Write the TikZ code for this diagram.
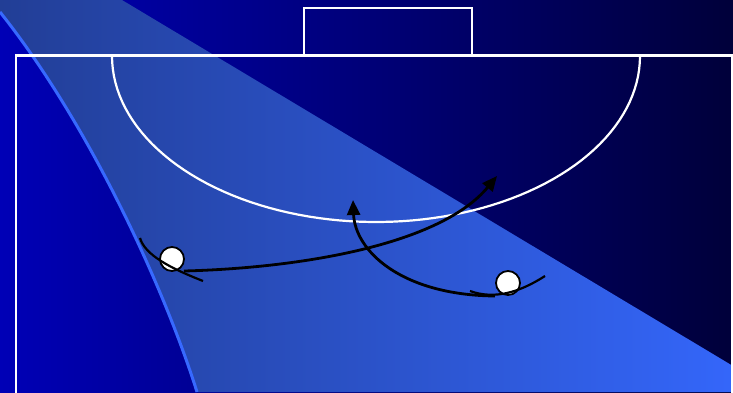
\documentclass[tikz,border=0pt]{standalone}
\usetikzlibrary{arrows.meta}
\definecolor{bgL}{RGB}{0,0,182}
\definecolor{bgR}{RGB}{0,0,58}
\definecolor{bandL}{RGB}{34,62,150}
\definecolor{bandR}{RGB}{52,102,250}
\definecolor{edgeblue}{RGB}{55,105,255}
\begin{document}
\begin{tikzpicture}[x=1pt,y=-1pt,
  court/.style={draw=white,line width=2.2pt},
  player/.style={circle,draw=black,fill=white,line width=1.8pt,minimum size=24pt,inner sep=0pt},
  trail/.style={draw=black,line width=2.2pt},
  run/.style={draw=black,line width=2.8pt,-{Triangle[length=15pt,width=13pt]}}]
\useasboundingbox (0,0) rectangle (733,392);
\clip (0,0) rectangle (733,392);
\shade[left color=bgL,right color=bgR] (0,0) rectangle (733,392);
\shade[left color=bandL,right color=bandR] (0,0) -- (122,0) -- (733,366) -- (733,392) -- (197,392) .. controls (165,290) and (90,125) .. (0,12) -- cycle;
\draw[edgeblue,line width=3pt] (197,392) .. controls (165,290) and (90,125) .. (0,12);
% court
\draw[court] (16,400) -- (16,55.5) -- (732,55.5) -- (732,400);
\draw[court] (304,55.5) -- (304,8) -- (472,8) -- (472,55.5);
\draw[court] plot[domain=180:360,samples=80] ({376+264*cos(\x)},{56-166*sin(\x)});
% players
\node[player] (p1) at (172,259) {};
\node[player] (p2) at (508,283) {};
% trails
\coordinate (t1a) at (140,238);
\coordinate (t1b) at (203,281);
\draw[trail] (t1a) .. controls (145,255) and (170,268) .. (t1b);
\coordinate (t2a) at (470,291);
\coordinate (t2b) at (545,276);
\draw[trail] (t2a) .. controls (495,300) and (520,292) .. (t2b);
% runs
\coordinate (r1a) at (184,271);
\coordinate (r1b) at (497,176);
\draw[run] (r1a) .. controls (300,268) and (440,245) .. (r1b);
\coordinate (r2a) at (495,296);
\coordinate (r2b) at (353,200);
\draw[run] (r2a) .. controls (400,295) and (355,250) .. (r2b);
\end{tikzpicture}
\end{document}
